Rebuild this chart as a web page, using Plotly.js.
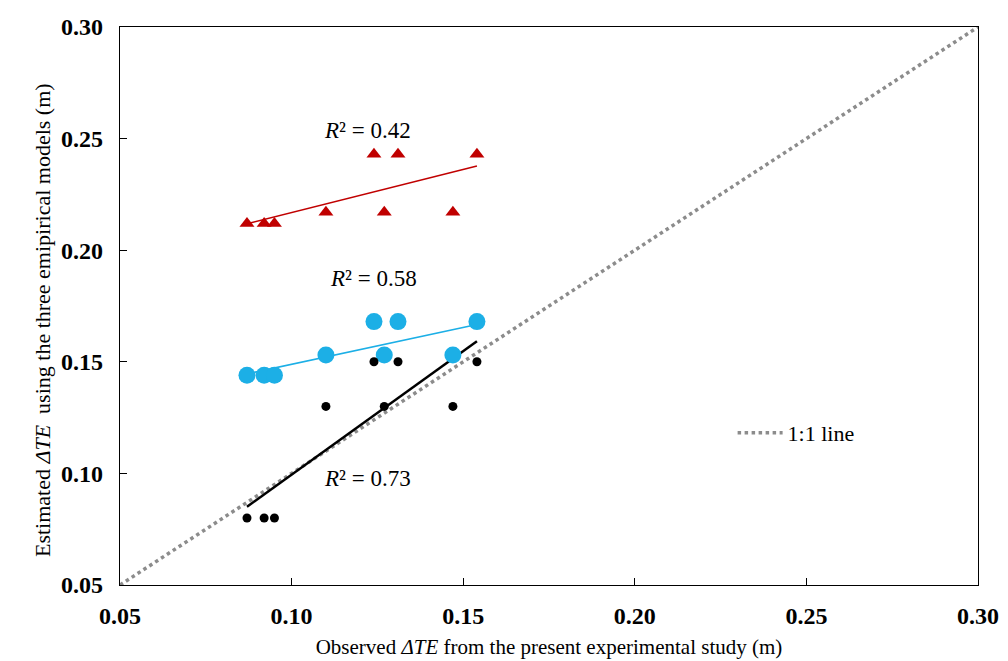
<!DOCTYPE html>
<html><head><meta charset="utf-8">
<script src="https://cdn.plot.ly/plotly-3.0.1.min.js"></script>
<style>body{margin:0;background:#fff}#c{width:1008px;height:661px}</style>
</head><body><div id="c"></div>
<script>
const observed = [0.087, 0.092, 0.095, 0.110, 0.124, 0.127, 0.131, 0.147, 0.154];
const modelRed   = [0.212, 0.212, 0.212, 0.217, 0.243, 0.217, 0.243, 0.217, 0.243];
const modelBlue  = [0.144, 0.144, 0.144, 0.153, 0.168, 0.153, 0.168, 0.153, 0.168];
const modelBlack = [0.080, 0.080, 0.080, 0.130, 0.150, 0.130, 0.150, 0.130, 0.150];
const r2Labels = ["R² = 0.42", "R² = 0.58", "R² = 0.73"];
const oneToOne = [0.05, 0.30];
const tickVals = [0.05, 0.10, 0.15, 0.20, 0.25, 0.30];

function fit(x, y) {
  const n = x.length;
  const mx = x.reduce((a,b)=>a+b,0)/n, my = y.reduce((a,b)=>a+b,0)/n;
  let sxy=0, sxx=0;
  for (let i=0;i<n;i++){ sxy+=(x[i]-mx)*(y[i]-my); sxx+=(x[i]-mx)**2; }
  const b = sxy/sxx, a = my - b*mx;
  const xs = [Math.min(...x), Math.max(...x)];
  return {x: xs, y: xs.map(v=>a+b*v)};
}
const fr = fit(observed, modelRed), fb = fit(observed, modelBlue), fk = fit(observed, modelBlack);

const traces = [
  {x: oneToOne, y: oneToOne, mode:'lines', name:'1:1 line', line:{color:'#8c8c8c', width:3.5, dash:'dot'}, showlegend:true},
  {x: fr.x, y: fr.y, mode:'lines', line:{color:'#C00000', width:1.5}, showlegend:false},
  {x: fb.x, y: fb.y, mode:'lines', line:{color:'#1CAFE6', width:1.5}, showlegend:false},
  {x: fk.x, y: fk.y, mode:'lines', line:{color:'#000', width:2.5}, showlegend:false},
  {x: observed, y: modelRed, mode:'markers', marker:{symbol:'triangle-up', size:13, color:'#C00000'}, showlegend:false},
  {x: observed, y: modelBlue, mode:'markers', marker:{symbol:'circle', size:17, color:'#1CAFE6'}, showlegend:false},
  {x: observed, y: modelBlack, mode:'markers', marker:{symbol:'circle', size:9, color:'#000'}, showlegend:false}
];

const serif = '"Liberation Serif", "Times New Roman", serif';
const tickFont = {family:serif, size:24, color:'#000', weight:'bold'};
const ann = (t, x, y) => ({text: '<i>R</i>' + t.slice(1), x, y, xref:'x', yref:'y', showarrow:false, font:{family:serif, size:23, color:'#000'}});

const layout = {
  width:1008, height:661,
  margin:{l:120, r:30, t:27, b:76},
  paper_bgcolor:'#fff', plot_bgcolor:'#fff',
  xaxis:{range:[0.05,0.30], tickvals:tickVals, tickformat:'.2f', ticks:'inside', ticklen:7, tickcolor:'#000',
    showline:true, linecolor:'#000', linewidth:1.2, mirror:true, showgrid:false, zeroline:false,
    tickfont:tickFont, ticklabelstandoff:9,
    title:{text:'Observed <i>ΔTE</i> from the present experimental study (m)', font:{family:serif, size:21, color:'#000'}, standoff:11}},
  yaxis:{range:[0.05,0.30], tickvals:tickVals, tickformat:'.2f', ticks:'inside', ticklen:7, tickcolor:'#000',
    showline:true, linecolor:'#000', linewidth:1.2, mirror:true, showgrid:false, zeroline:false,
    tickfont:tickFont, ticklabelstandoff:11},
  showlegend:true,
  legend:{x:0.714, y:0.31, xanchor:'left', yanchor:'top', itemwidth:45, bgcolor:'rgba(0,0,0,0)', font:{family:serif, size:22, color:'#000'}},
  annotations:[
    ann(r2Labels[0], 0.122, 0.2536),
    ann(r2Labels[1], 0.124, 0.1871),
    ann(r2Labels[2], 0.122, 0.0976),
    {text:'Estimated <i>ΔTE</i>  using the three emipirical models (m)', textangle:-90, xref:'paper', yref:'paper',
     x:-0.0897, y:0.475, xanchor:'center', yanchor:'middle', showarrow:false, font:{family:serif, size:22, color:'#000'}}
  ]
};
Plotly.newPlot('c', traces, layout, {displayModeBar:false, staticPlot:true});
</script></body></html>
